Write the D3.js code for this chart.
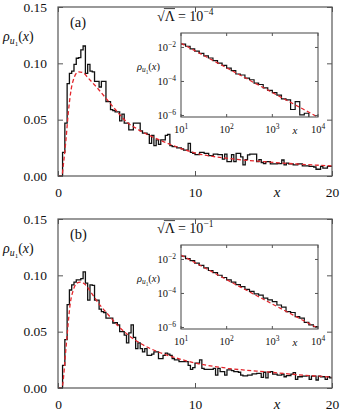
<!DOCTYPE html>
<html>
<head>
<meta charset="utf-8">
<script src="https://cdn.jsdelivr.net/npm/d3@7"></script>
<style>
  body { margin: 0; background: #fff; }
  svg { display: block; }
</style>
</head>
<body>
<div id="chart"></div>
<script>
// ---- data ----
var binWidth = 1 / 6;   // histogram bins in x, starting at 0

var histA = [
  0, 0, 0.021, 0.047, 0.082, 0.091, 0.093, 0.099, 0.1045, 0.105, 0.112, 0.1154,
  0.091, 0.099, 0.093, 0.0925, 0.084, 0.084, 0.079, 0.084, 0.084, 0.066, 0.066, 0.059,
  0.058, 0.057, 0.057, 0.049, 0.055, 0.047, 0.047, 0.041, 0.041, 0.047, 0.047, 0.047,
  0.040, 0.038, 0.038, 0.037, 0.029, 0.036, 0.027, 0.032, 0.028, 0.032, 0.032, 0.036,
  0.037, 0.027, 0.026, 0.026, 0.025, 0.025, 0.024, 0.023, 0.023, 0.029, 0.021, 0.020,
  0.019, 0.019, 0.021, 0.021, 0.020, 0.020, 0.018, 0.018, 0.0195, 0.0195, 0.019, 0.019,
  0.015, 0.0195, 0.0127, 0.0127, 0.019, 0.0127, 0.020, 0.020, 0.017, 0.0098, 0.0145, 0.0187,
  0.0195, 0.0195, 0.0195, 0.0127, 0.0145, 0.012, 0.011, 0.0127, 0.0127, 0.0107, 0.0107, 0.0107,
  0.011, 0.011, 0.0142, 0.0098, 0.0115, 0.0107, 0.0107, 0.0098, 0.0098, 0.0107, 0.0107, 0.009,
  0.009, 0.009, 0.0085, 0.0085, 0.008, 0.006, 0.006, 0.0085, 0.007, 0.007, 0.0085, 0.0085
];

var histB = [
  0, 0, 0.020, 0.043, 0.074, 0.087, 0.0915, 0.094, 0.096, 0.096, 0.097, 0.103,
  0.093, 0.078, 0.0915, 0.091, 0.078, 0.078, 0.070, 0.0678, 0.067, 0.062, 0.062, 0.062,
  0.0577, 0.058, 0.056, 0.050, 0.050, 0.047, 0.040, 0.049, 0.056, 0.045, 0.035, 0.040,
  0.035, 0.032, 0.035, 0.029, 0.029, 0.030, 0.032, 0.032, 0.026, 0.026, 0.029, 0.031,
  0.030, 0.029, 0.026, 0.025, 0.025, 0.0234, 0.0234, 0.0234, 0.0234, 0.020, 0.0166, 0.018,
  0.022, 0.022, 0.025, 0.0175, 0.0165, 0.0165, 0.0165, 0.0165, 0.0175, 0.0115, 0.0175, 0.0145,
  0.0145, 0.0115, 0.016, 0.016, 0.0155, 0.0145, 0.0145, 0.014, 0.0115, 0.0107, 0.0107, 0.0115,
  0.0115, 0.0125, 0.0125, 0.013, 0.013, 0.0095, 0.014, 0.009, 0.014, 0.0145, 0.0124, 0.0124,
  0.0115, 0.0115, 0.0124, 0.010, 0.011, 0.011, 0.0124, 0.0136, 0.0077, 0.010, 0.010, 0.0105,
  0.0105, 0.011, 0.0077, 0.0105, 0.0105, 0.0071, 0.0105, 0.010, 0.010, 0.0077, 0.010, 0.009
];

// dashed theory curves
var curveAx = [0, 0.28, 0.4, 0.58, 0.75, 0.95, 1.2, 1.5, 1.85, 2.2, 2.95, 3.7, 4.4, 5.1, 5.75, 6.5, 7.8, 10, 12.5, 15, 17.5, 20];
var curveAy = [0, 0, 0.011, 0.032, 0.056, 0.076, 0.088, 0.0925, 0.0915, 0.087, 0.077, 0.066, 0.056, 0.047, 0.042, 0.037, 0.030, 0.0205, 0.0155, 0.0127, 0.0106, 0.0089];
var curveBx = [0, 0.28, 0.4, 0.51, 0.7, 0.88, 1.12, 1.36, 1.65, 1.97, 2.46, 2.94, 3.67, 4.4, 5.13, 6.1, 7.32, 8.54, 10, 12.4, 15.5, 17.5, 20];
var curveBy = [0, 0, 0.009, 0.025, 0.0515, 0.0737, 0.087, 0.093, 0.094, 0.092, 0.084, 0.0755, 0.065, 0.055, 0.047, 0.039, 0.032, 0.027, 0.0222, 0.0175, 0.0140, 0.0118, 0.0097];

// insets: log bins (log10 x from 1 to 4, width 0.1), values are log10 rho
var insetBinStart = 1, insetBinWidth = 0.1;
var insetHistA = [
  -1.80, -1.93, -2.08, -2.22, -2.35, -2.50, -2.62, -2.78, -2.92, -3.05,
  -3.22, -3.36, -3.56, -3.62, -3.80, -3.90, -4.10, -4.18, -4.38, -4.52,
  -4.66, -4.80, -5.02, -5.08, -5.65, -5.19, -5.97, -5.87, -6.2, -6.2
];
var insetHistB = [
  -1.80, -1.95, -2.07, -2.22, -2.35, -2.50, -2.65, -2.78, -2.93, -3.06,
  -3.20, -3.33, -3.48, -3.60, -3.76, -3.88, -4.02, -4.10, -4.28, -4.38,
  -4.48, -4.68, -4.80, -5.07, -5.12, -5.36, -5.45, -5.70, -5.85, -5.95
];
var insetCurveLogX = [1, 2, 3, 4];
var insetCurveA = [-1.75, -3.2, -4.65, -6.1];
var insetCurveB = [-1.74, -3.19, -4.62, -6.05];

var yTicks = [0, 0.05, 0.10, 0.15];
var xTicks = [0, 10, 20];
var insetXTicks = [1, 2, 3, 4];      // exponents of 10
var insetYTicks = [-2, -4, -6];
var panelLabels = ["(a)", "(b)"];
var lambdaExps = ["\u22124", "\u22121"];

// ---- layout ----
var W = 341, H = 414;
var frameCol = "#555", redCol = "#e3262c";
var FONT = "'Liberation Serif', serif";

var svg = d3.select("#chart").append("svg")
  .attr("width", W)
  .attr("height", H);

var x = d3.scaleLinear().domain([0, 20]).range([58, 332]);
var y = d3.scaleLinear().domain([0, 0.15]).range([169, 0]);
var ix = d3.scaleLog().domain([10, 1e4]).range([181, 318]);
var iy = d3.scaleLog().domain([Math.pow(10, -6.09), Math.pow(10, -1.15)]).range([110, 26]);

function rhoLabel(g, px, py, fs) {
  var t = g.append("text").attr("x", px).attr("y", py).attr("font-size", fs);
  t.append("tspan").attr("font-style", "italic").text("\u03c1");
  t.append("tspan").attr("font-style", "italic").attr("font-size", fs * 0.7).attr("dy", fs * 0.22).text("u");
  t.append("tspan").attr("font-size", fs * 0.5).attr("dy", fs * 0.14).text("1");
  t.append("tspan").attr("dy", -fs * 0.36).text("(");
  t.append("tspan").attr("font-style", "italic").text("x");
  t.append("tspan").text(")");
}

function drawPanel(p, k) {
  var g = svg.append("g").attr("transform", "translate(0," + p.top + ")");
  var clipId = "clip" + k, iclipId = "iclip" + k;

  g.append("clipPath").attr("id", clipId).append("rect")
    .attr("x", 58).attr("y", 0).attr("width", 274).attr("height", 169);
  g.append("clipPath").attr("id", iclipId).append("rect")
    .attr("x", 181).attr("y", 26).attr("width", 137).attr("height", 84);

  // histogram as steps
  var pts = p.hist.map(function(v, i) { return [i * binWidth, v]; });
  pts.push([p.hist.length * binWidth, p.hist[p.hist.length - 1]]);
  var step = d3.line()
    .x(function(d) { return x(d[0]); })
    .y(function(d) { return y(d[1]); })
    .curve(d3.curveStepAfter);
  g.append("path")
    .attr("clip-path", "url(#" + clipId + ")")
    .attr("d", step(pts))
    .attr("fill", "none").attr("stroke", "#111").attr("stroke-width", 1.3);

  var smooth = d3.line()
    .x(function(d) { return x(d[0]); })
    .y(function(d) { return y(d[1]); })
    .curve(d3.curveMonotoneX);
  g.append("path")
    .attr("clip-path", "url(#" + clipId + ")")
    .attr("d", smooth(p.cx.map(function(v, i) { return [v, p.cy[i]]; })))
    .attr("fill", "none").attr("stroke", redCol).attr("stroke-width", 1.3)
    .attr("stroke-dasharray", "4,2.5");

  // axes, ticks pointing inwards
  g.append("g").attr("transform", "translate(58,0)")
    .call(d3.axisLeft(y).tickValues(yTicks).tickSize(-5).tickPadding(11)
      .tickFormat(d3.format(".2f")));
  g.append("g").attr("transform", "translate(332,0)")
    .call(d3.axisRight(y).tickValues(yTicks).tickSize(-5).tickFormat(""));
  g.append("g").attr("transform", "translate(0,169)")
    .call(d3.axisBottom(x).tickValues(xTicks).tickSize(-5).tickPadding(11));
  g.append("g")
    .call(d3.axisTop(x).tickValues(xTicks).tickSize(-5).tickFormat(""));
  g.selectAll(".domain").remove();
  g.selectAll(".tick line").attr("stroke", frameCol);
  g.selectAll(".tick text").attr("font-size", 13.5).attr("fill", "#111");

  g.append("rect").attr("x", 58).attr("y", 0).attr("width", 274).attr("height", 169)
    .attr("fill", "none").attr("stroke", frameCol).attr("stroke-width", 1.2);

  rhoLabel(g, 3, 34, 14);
  g.append("text").attr("x", 277).attr("y", 190).attr("text-anchor", "middle")
    .attr("font-size", 15).attr("font-style", "italic").text("x");

  g.append("text").attr("x", 70).attr("y", 19.5).attr("font-size", 14.5).text(p.label);

  // sqrt(Lambda) = 10^exp
  var lt = g.append("text").attr("x", 157).attr("y", 13.5).attr("font-size", 14)
    .style("font-family", FONT);
  lt.append("tspan").text("\u221a");
  lt.append("tspan").text("\u039b = 10");
  lt.append("tspan").attr("font-size", 9.5).attr("dy", -5.5).text(p.exp);
  var node = lt.node();
  var e0 = node.getExtentOfChar(0), e1 = node.getExtentOfChar(1);
  g.append("line")
    .attr("x1", e0.x + e0.width - 0.8).attr("x2", e1.x + e1.width + 0.5)
    .attr("y1", 1.6).attr("y2", 1.6)
    .attr("stroke", "#111").attr("stroke-width", 0.8);

  // ---- inset ----
  g.append("rect").attr("x", 181).attr("y", 26).attr("width", 137).attr("height", 84)
    .attr("fill", "#fff");

  var ipts = p.ihist.map(function(v, i) {
    return [Math.pow(10, insetBinStart + i * insetBinWidth), Math.pow(10, v)];
  });
  ipts.push([Math.pow(10, insetBinStart + p.ihist.length * insetBinWidth),
             Math.pow(10, p.ihist[p.ihist.length - 1])]);
  var istep = d3.line()
    .x(function(d) { return ix(d[0]); })
    .y(function(d) { return iy(d[1]); })
    .curve(d3.curveStepAfter);
  g.append("path")
    .attr("clip-path", "url(#" + iclipId + ")")
    .attr("d", istep(ipts))
    .attr("fill", "none").attr("stroke", "#111").attr("stroke-width", 1.2);

  var iline = d3.line()
    .x(function(d) { return ix(d[0]); })
    .y(function(d) { return iy(d[1]); })
    .curve(d3.curveMonotoneX);
  g.append("path")
    .attr("clip-path", "url(#" + iclipId + ")")
    .attr("d", iline(insetCurveLogX.map(function(v, i) {
      return [Math.pow(10, v), Math.pow(10, p.icurve[i])];
    })))
    .attr("fill", "none").attr("stroke", redCol).attr("stroke-width", 1.2)
    .attr("stroke-dasharray", "4,2.5");

  var tk = g.append("g").attr("stroke", frameCol).attr("stroke-width", 1);
  insetXTicks.forEach(function(e) {
    var px = ix(Math.pow(10, e));
    tk.append("line").attr("x1", px).attr("x2", px).attr("y1", 110).attr("y2", 107);
    tk.append("line").attr("x1", px).attr("x2", px).attr("y1", 26).attr("y2", 29);
  });
  insetYTicks.forEach(function(e) {
    var py = iy(Math.pow(10, e));
    tk.append("line").attr("x1", 181).attr("x2", 184).attr("y1", py).attr("y2", py);
    tk.append("line").attr("x1", 318).attr("x2", 315).attr("y1", py).attr("y2", py);
  });
  g.append("rect").attr("x", 181).attr("y", 26).attr("width", 137).attr("height", 84)
    .attr("fill", "none").attr("stroke", frameCol).attr("stroke-width", 1.1);

  insetYTicks.forEach(function(e) {
    var t = g.append("text").attr("x", 176).attr("y", iy(Math.pow(10, e)) + 3.5)
      .attr("text-anchor", "end").attr("font-size", 10.5);
    t.append("tspan").text("10");
    t.append("tspan").attr("font-size", 7.5).attr("dy", -4).text("\u2212" + (-e));
  });
  insetXTicks.forEach(function(e) {
    var t = g.append("text").attr("x", ix(Math.pow(10, e))).attr("y", 126)
      .attr("text-anchor", "middle").attr("font-size", 10.5);
    t.append("tspan").text("10");
    t.append("tspan").attr("font-size", 7.5).attr("dy", -4).text(e);
  });
  g.append("text").attr("x", 295).attr("y", 127).attr("text-anchor", "middle")
    .attr("font-size", 11).attr("font-style", "italic").text("x");
  rhoLabel(g, 137, 63, 10.5);
}

var panels = [
  { hist: histA, cx: curveAx, cy: curveAy, ihist: insetHistA, icurve: insetCurveA,
    label: panelLabels[0], exp: lambdaExps[0], top: 7 },
  { hist: histB, cx: curveBx, cy: curveBy, ihist: insetHistB, icurve: insetCurveB,
    label: panelLabels[1], exp: lambdaExps[1], top: 219 }
];
panels.forEach(drawPanel);

// one serif face for every label
svg.selectAll("text").style("font-family", FONT).style("fill", "#111");
</script>
</body>
</html>
